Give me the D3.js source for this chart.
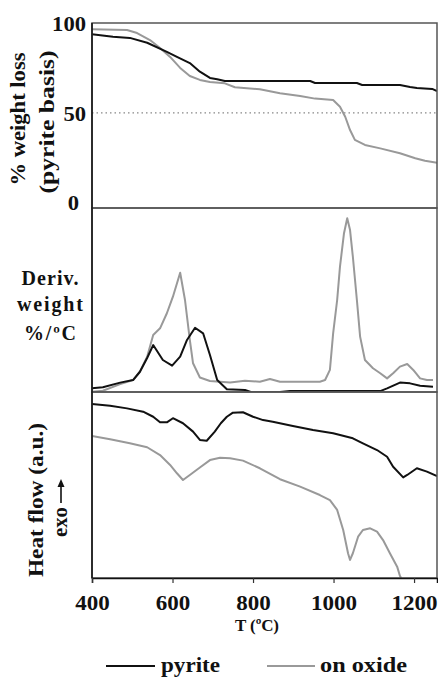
<!DOCTYPE html>
<html>
<head>
<meta charset="utf-8">
<script src="https://cdn.jsdelivr.net/npm/d3@7"></script>
<style>
  body { margin: 0; background: #fff; }
  text { font-family: "Liberation Serif", "Times New Roman", serif; font-weight: bold; fill: #111; }
</style>
</head>
<body>
<div id="chart"></div>
<script>
// temperature (°C) / value pairs
// % weight loss (pyrite basis)
const pyriteLoss = [[400,93.7],[452,92.4],[494,91.7],[537,89.0],[586,83.9],[611,81.1],[643,77.7],[668,72.9],[693,69.4],[711,68.7],[730,67.7],[942,67.7],[954,66.6],[1058,66.6],[1071,65.5],[1165,65.5],[1190,64.4],[1207,63.8],[1245,63.3],[1257,62.1]];
const oxideLoss = [[400,96.5],[487,96.1],[512,94.4],[544,90.5],[569,86.1],[594,81.1],[619,75.0],[643,70.5],[668,68.3],[693,67.2],[730,66.4],[755,64.2],[817,63.1],[867,60.9],[917,59.4],[954,57.9],[999,57.1],[1016,53.4],[1029,47.8],[1041,40.4],[1053,34.9],[1078,32.1],[1116,30.2],[1165,27.5],[1203,24.7],[1227,23.3],[1257,22.2]];
// derivative weight (arbitrary units)
const pyriteDeriv = [[400,2.0],[427,2.6],[470,5.1],[502,6.5],[519,11.0],[537,18.5],[552,25.5],[576,17.4],[599,14.3],[619,19.2],[636,28.3],[656,34.9],[676,31.9],[693,20.1],[711,6.5],[735,1.5],[780,1.1],[798,-0.2],[867,0],[892,0.5],[1116,0.5],[1133,2.0],[1165,5.1],[1190,4.7],[1215,3.4],[1247,2.9]];
const oxideDeriv = [[400,0.2],[427,0.7],[470,4.3],[502,6.5],[519,11.0],[537,19.2],[552,31.0],[569,34.6],[586,42.8],[601,51.8],[619,64.8],[631,50.0],[643,28.3],[651,15.6],[668,7.9],[693,6.0],[743,5.1],[780,6.1],[817,5.6],[842,7.1],[867,5.6],[966,5.6],[979,6.5],[991,12.0],[999,31.9],[1009,50.0],[1016,68.1],[1026,86.3],[1034,94.4],[1041,88.0],[1048,73.5],[1058,50.0],[1066,30.1],[1078,17.4],[1098,12.9],[1116,10.2],[1133,7.4],[1148,10.2],[1165,13.8],[1183,15.2],[1198,12.0],[1215,7.4],[1232,6.5],[1247,6.5]];
// heat flow (a.u.)
const pyriteHeat = [[400,93.5],[445,92.6],[487,91.2],[527,89.4],[552,86.7],[569,83.7],[586,83.7],[601,85.9],[626,83.2],[651,78.7],[668,74.2],[685,73.8],[705,78.7],[720,83.2],[735,86.7],[750,88.9],[775,89.1],[800,86.7],[825,84.9],[849,84.0],[899,81.7],[949,79.6],[999,77.8],[1048,75.1],[1073,72.4],[1108,68.8],[1133,65.2],[1148,59.8],[1173,54.1],[1183,55.4],[1207,59.0],[1232,57.2],[1257,54.8]];
const oxideHeat = [[400,76.3],[445,74.6],[494,72.4],[537,70.3],[569,66.1],[594,60.8],[611,56.3],[626,52.7],[643,55.4],[668,59.4],[693,63.4],[718,64.7],[743,64.4],[775,63.1],[817,59.0],[867,53.1],[917,49.1],[966,44.6],[991,41.9],[1009,36.6],[1024,25.8],[1036,13.3],[1041,9.7],[1048,13.3],[1061,22.2],[1073,25.8],[1091,26.7],[1108,24.9],[1123,20.4],[1140,13.3],[1158,6.1],[1165,1.1],[1168,0]];

const xTicks = [400, 600, 800, 1000, 1200];
const lossTicks = [0, 50, 100];
const seriesNames = ["pyrite", "on oxide"];
const seriesColors = ["#111", "#999"];

const W = 438, H = 677;
const svg = d3.select("#chart").append("svg").attr("width", W).attr("height", H);

const x = d3.scaleLinear().domain([400, 1257]).range([92, 437]);
const panels = [
  { top: 23, bottom: 208, domain: [-3, 100], data: [pyriteLoss, oxideLoss] },
  { top: 208, bottom: 392, domain: [0, 100], data: [pyriteDeriv, oxideDeriv] },
  { top: 392, bottom: 578, domain: [0, 100], data: [pyriteHeat, oxideHeat] }
];

panels.forEach((p, i) => {
  p.y = d3.scaleLinear().domain(p.domain).range([p.bottom, p.top]);
  svg.append("clipPath").attr("id", "clip" + i)
    .append("rect").attr("x", x.range()[0]).attr("y", p.top)
    .attr("width", x.range()[1] - x.range()[0]).attr("height", p.bottom - p.top);
});

// reference line at 50 %
svg.append("line")
  .attr("x1", x.range()[0]).attr("x2", x.range()[1])
  .attr("y1", panels[0].y(50)).attr("y2", panels[0].y(50))
  .attr("stroke", "#888").attr("stroke-width", 1.2).attr("stroke-dasharray", "1.5,3");

// curves
panels.forEach((p, i) => {
  const line = d3.line().x(d => x(d[0])).y(d => p.y(d[1]));
  const g = svg.append("g").attr("clip-path", `url(#clip${i})`);
  // gray first so black sits on top
  [1, 0].forEach(s => {
    g.append("path").datum(p.data[s])
      .attr("d", line)
      .attr("fill", "none")
      .attr("stroke", seriesColors[s])
      .attr("stroke-width", 2)
      .attr("stroke-linejoin", "round");
  });
});

// frames
panels.forEach(p => {
  svg.append("rect")
    .attr("x", x.range()[0]).attr("y", p.top)
    .attr("width", x.range()[1] - x.range()[0]).attr("height", p.bottom - p.top)
    .attr("fill", "none").attr("stroke", "#555").attr("stroke-width", 1.5);
});
svg.append("line").attr("x1", 92).attr("x2", 92).attr("y1", 23).attr("y2", 578)
  .attr("stroke", "#111").attr("stroke-width", 1.5);

// x axis
const xAxis = svg.append("g").attr("transform", "translate(0,578)")
  .call(d3.axisBottom(x).tickValues(xTicks).tickSize(5).tickFormat(d3.format("d")));
xAxis.select(".domain").attr("stroke", "#111").attr("stroke-width", 1.5);
xAxis.selectAll(".tick line").attr("stroke", "#333").attr("stroke-width", 1.2);
xAxis.selectAll(".tick text")
  .attr("y", 17).attr("dy", "0.71em")
  .attr("font-size", 21)
  .attr("textLength", d => String(d).length * 11.5).attr("lengthAdjust", "spacingAndGlyphs")
  .style("font-family", "'Liberation Serif', serif").style("font-weight", "bold").attr("fill", "#111");

svg.append("text").attr("x", 257).attr("y", 631).attr("text-anchor", "middle")
  .attr("font-size", 17).attr("textLength", 44).text("T (ºC)");

// y axis top panel
const yAxis = svg.append("g").attr("transform", "translate(92,0)")
  .call(d3.axisLeft(panels[0].y).tickValues(lossTicks).tickSize(0).tickPadding(6));
yAxis.select(".domain").remove();
yAxis.selectAll(".tick text")
  .attr("dy", "0.36em")
  .attr("font-size", 20)
  .attr("textLength", d => String(d).length * 11.3).attr("lengthAdjust", "spacingAndGlyphs")
  .style("font-family", "'Liberation Serif', serif").style("font-weight", "bold").attr("fill", "#111");
yAxis.selectAll(".tick").filter(d => d === 0).select("text").attr("x", -13);

// axis titles
function vText(cx, cy, txt, size, len) {
  return svg.append("text")
    .attr("transform", `translate(${cx},${cy}) rotate(-90)`)
    .attr("text-anchor", "middle")
    .attr("font-size", size)
    .attr("textLength", len).attr("lengthAdjust", "spacingAndGlyphs")
    .text(txt);
}
vText(25, 119, "% weight loss", 21, 133);
vText(54, 122, "(pyrite basis)", 21, 143);
vText(43, 500, "Heat flow (a.u.)", 21, 154);
vText(67, 522, "exo", 21, 30);
// up arrow after "exo"
svg.append("line").attr("x1", 61).attr("x2", 61).attr("y1", 503).attr("y2", 482)
  .attr("stroke", "#111").attr("stroke-width", 1.6);
svg.append("path").attr("d", "M61,479 L57.5,487 L64.5,487 Z").attr("fill", "#111");

[["Deriv.", 285, 57], ["weight", 311, 66], ["%/ºC", 340, 52]].forEach(([t, yy, len]) => {
  svg.append("text").attr("x", 50).attr("y", yy).attr("text-anchor", "middle")
    .attr("font-size", 20).attr("textLength", len).attr("lengthAdjust", "spacing").text(t);
});

// legend
const legend = [
  { x1: 106, x2: 155, tx: 161, len: 59 },
  { x1: 267, x2: 315, tx: 320, len: 87 }
];
legend.forEach((l, i) => {
  svg.append("line").attr("x1", l.x1).attr("x2", l.x2).attr("y1", 666).attr("y2", 666)
    .attr("stroke", seriesColors[i]).attr("stroke-width", 2);
  svg.append("text").attr("x", l.tx).attr("y", 672).attr("font-size", 21)
    .attr("textLength", l.len).attr("lengthAdjust", "spacingAndGlyphs").text(seriesNames[i]);
});
</script>
</body>
</html>
